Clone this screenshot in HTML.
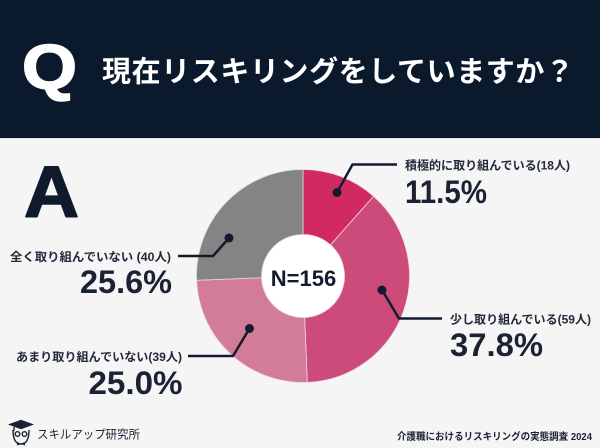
<!DOCTYPE html>
<html>
<head>
<meta charset="utf-8">
<style>
  html,body{margin:0;padding:0;background:#f5f5f5;}
  body{width:600px;height:448px;overflow:hidden;}
  svg{display:block;}
  .cjk{font-family:"Liberation Sans","Noto Sans CJK JP",sans-serif;}
  .lat{font-family:"Liberation Sans",sans-serif;}
</style>
</head>
<body>
<svg width="600" height="448" viewBox="0 0 600 448" xmlns="http://www.w3.org/2000/svg">
  <!-- backgrounds -->
  <rect x="0" y="0" width="600" height="448" fill="#f5f5f5"/>
  <rect x="0" y="0" width="600" height="138" fill="#0b192c"/>
  <rect x="0" y="138" width="600" height="1" fill="#dfe3ea"/>

  <!-- header -->
  <text x="22" y="88.5" class="lat" font-size="63" font-weight="700" fill="#ffffff" stroke="#ffffff" stroke-width="1.6" stroke-linejoin="round" textLength="55" lengthAdjust="spacingAndGlyphs">Q</text>
  <text x="102" y="81.5" class="cjk" font-size="29" font-weight="700" fill="#ffffff" textLength="472" lengthAdjust="spacing">現在リスキリングをしていますか？</text>

  <!-- A -->
  <text x="24" y="216.5" class="lat" font-size="72" font-weight="700" fill="#101a2d" stroke="#101a2d" stroke-width="1.6" stroke-linejoin="round" textLength="55" lengthAdjust="spacingAndGlyphs">A</text>

  <!-- donut -->
  <g stroke="#f3d9e2" stroke-width="0.8">
    <path d="M303,169.5 A106.5,106.5 0 0 1 373.63,196.29 L330.52,244.94 A41.5,41.5 0 0 0 303,234.5 Z" fill="#d12a63"/>
    <path d="M373.63,196.29 A106.5,106.5 0 0 1 307.29,382.41 L304.67,317.47 A41.5,41.5 0 0 0 330.52,244.94 Z" fill="#cc4b7b"/>
    <path d="M307.29,382.41 A106.5,106.5 0 0 1 196.59,280.29 L261.53,277.67 A41.5,41.5 0 0 0 304.67,317.47 Z" fill="#d27c99"/>
    <path d="M196.59,280.29 A106.5,106.5 0 0 1 303,169.5 L303,234.5 A41.5,41.5 0 0 0 261.53,277.67 Z" fill="#848484" stroke="#d9d9d9"/>
  </g>
  <circle cx="303" cy="276" r="41" fill="#ffffff"/>
  <text x="303.5" y="286" class="lat" font-size="22" font-weight="700" fill="#131c2e" text-anchor="middle">N=156</text>

  <!-- leader lines -->
  <g fill="none" stroke="#131c2e" stroke-width="2.5" stroke-linejoin="round">
    <polyline points="337,192.5 352.5,164.5 397,164.5"/>
    <polyline points="382,290 399,318.5 442,318.5"/>
    <polyline points="229,238 213,256 178,256"/>
    <polyline points="249.5,328.5 233,356 188,356"/>
  </g>
  <g fill="#131c2e">
    <circle cx="337" cy="192.5" r="4.5"/>
    <circle cx="382" cy="290" r="4.5"/>
    <circle cx="229" cy="238" r="4.5"/>
    <circle cx="249.5" cy="328.5" r="4.5"/>
  </g>

  <!-- labels -->
  <g class="cjk" font-size="12" font-weight="700" fill="#222a3a">
    <text x="405" y="169.5" textLength="165" lengthAdjust="spacingAndGlyphs">積極的に取り組んでいる(18人)</text>
    <text x="450" y="323.5" textLength="141" lengthAdjust="spacingAndGlyphs">少し取り組んでいる(59人)</text>
    <text x="10" y="261" textLength="161" lengthAdjust="spacingAndGlyphs">全く取り組んでいない (40人)</text>
    <text x="16" y="361" textLength="166" lengthAdjust="spacingAndGlyphs">あまり取り組んでいない(39人)</text>
  </g>
  <g class="lat" font-size="32" font-weight="700" fill="#1a2233">
    <text x="405" y="203" textLength="82" lengthAdjust="spacingAndGlyphs">11.5%</text>
    <text x="450" y="356" textLength="93" lengthAdjust="spacingAndGlyphs">37.8%</text>
    <text x="80" y="293" textLength="92" lengthAdjust="spacingAndGlyphs">25.6%</text>
    <text x="88.5" y="394" textLength="94" lengthAdjust="spacingAndGlyphs">25.0%</text>
  </g>

  <!-- footer logo -->
  <g stroke="#1a2233" stroke-width="1.4" fill="none">
    <polygon points="21,420.5 32,424.5 21,428.5 10,424.5" fill="#1a2233"/>
    <path d="M14,427 L14,431" />
    <path d="M13,430 Q13,444 21,444 Q29,444 29,430" />
    <circle cx="17.5" cy="434" r="2.3"/>
    <circle cx="24.5" cy="434" r="2.3"/>
  </g>
  <polygon points="17,442 21,443.5 25,442 25,445.5 21,444 17,445.5" fill="#1a2233"/>
  <text x="37" y="438.5" class="cjk" font-size="12" font-weight="400" fill="#1a2233" textLength="103" lengthAdjust="spacingAndGlyphs">スキルアップ研究所</text>

  <text x="397" y="440" class="cjk" font-size="10" font-weight="700" fill="#1a2233" textLength="195" lengthAdjust="spacingAndGlyphs">介護職におけるリスキリングの実態調査 2024</text>
</svg>
</body>
</html>
